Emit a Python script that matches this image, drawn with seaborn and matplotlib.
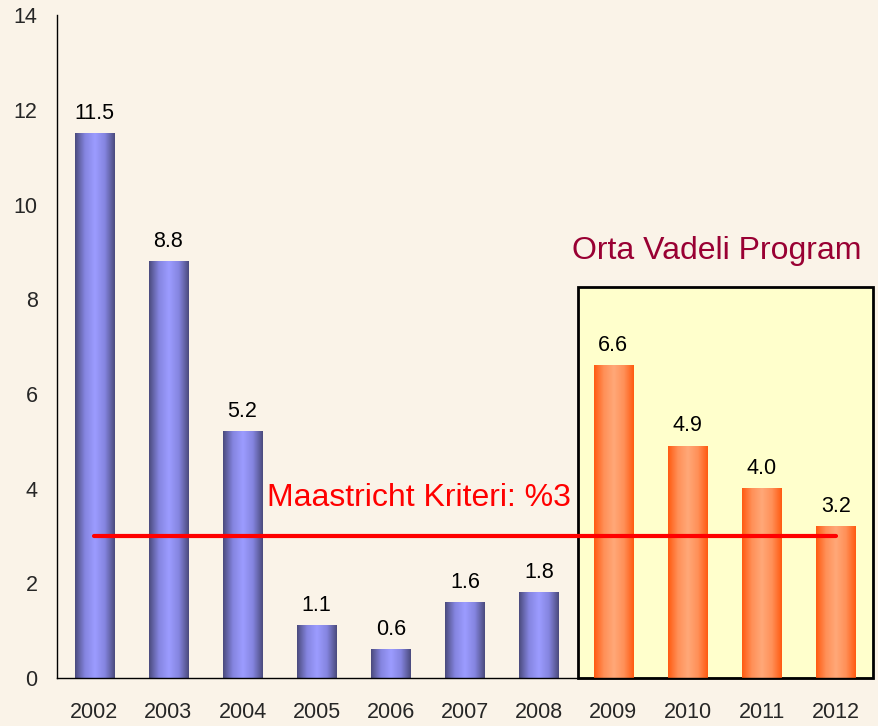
import numpy as np
import pandas as pd
import matplotlib
matplotlib.use("Agg")
import matplotlib.pyplot as plt
import seaborn as sns
from matplotlib.colors import LinearSegmentedColormap
from matplotlib.patches import Rectangle

years = ["2002", "2003", "2004", "2005", "2006", "2007", "2008",
         "2009", "2010", "2011", "2012"]
values = [11.5, 8.8, 5.2, 1.1, 0.6, 1.6, 1.8, 6.6, 4.9, 4.0, 3.2]
group = ["actual"] * 7 + ["program"] * 4
labels = ["11.5", "8.8", "5.2", "1.1", "0.6", "1.6", "1.8", "6.6", "4.9", "4.0", "3.2"]
criterion = 3.0
yticks = [0, 2, 4, 6, 8, 10, 12, 14]

df = pd.DataFrame({"year": years, "value": values, "group": group})

sns.set_theme(style="white")
plt.rcParams['font.family'] = ['Liberation Sans', 'DejaVu Sans']

bg = "#FAF3E8"
fig = plt.figure(figsize=(8.79, 7.26), dpi=100, facecolor=bg)
ax = fig.add_axes([0.065, 0.066, 0.928, 0.913])
ax.set_facecolor(bg)

sns.barplot(data=df, x="year", y="value", hue="group",
            palette={"actual": "#9999FF", "program": "#FF9966"},
            dodge=False, width=0.53, legend=False, ax=ax, zorder=3)

ax.set_xlim(-0.5, len(years) - 0.5)
ax.set_ylim(0, 14)

# yellow highlight box for the program years
box = Rectangle((6.52, 0), 3.98, 8.25, facecolor="#FFFFCC", edgecolor="black",
                linewidth=2, zorder=1, clip_on=False)
ax.add_patch(box)

blue_cmap = LinearSegmentedColormap.from_list("b", ["#4A4A7C", "#8585E0", "#9C9CFF", "#8585E0", "#4A4A7C"])
orange_cmap = LinearSegmentedColormap.from_list("o", ["#FF5A10", "#FF9058", "#FFA878", "#FF9058", "#FF5A10"])
grad = np.linspace(0, 1, 256).reshape(1, -1)

for p in ax.patches:
    if p is box:
        continue
    x0, w, h = p.get_x(), p.get_width(), p.get_height()
    if h <= 0 or w <= 0:
        continue
    fc = p.get_facecolor()
    cmap = orange_cmap if fc[1] < 0.8 and fc[0] > 0.9 else blue_cmap
    p.set_facecolor("none")
    p.set_edgecolor("none")
    ax.imshow(grad, cmap=cmap, extent=(x0, x0 + w, 0, h), aspect="auto",
              zorder=3, interpolation="bilinear")

ax.set_xlim(-0.5, len(years) - 0.5)
ax.set_ylim(0, 14)

for i, (v, t) in enumerate(zip(values, labels)):
    ax.annotate(t, (i, v), xytext=(0, 7), textcoords="offset points",
                ha="center", va="bottom", fontsize=15.5, color="black", zorder=5)

# Maastricht criterion line
ax.plot([0, len(years) - 1], [criterion, criterion], color="#FF0000", lw=3, zorder=4)
ax.text(4.38, 3.8, "Maastricht Kriteri: %3", color="#FF0000", fontsize=23,
        ha="center", va="center", zorder=5)
ax.text(8.4, 9.02, "Orta Vadeli Program", color="#990033", fontsize=23,
        ha="center", va="center", zorder=5)

# axes styling
for s in ["top", "right"]:
    ax.spines[s].set_visible(False)
ax.spines["left"].set_color("black")
ax.spines["bottom"].set_color("black")
ax.spines["left"].set_linewidth(1)
ax.spines["bottom"].set_linewidth(1)
ax.spines["left"].set_zorder(6)
ax.spines["bottom"].set_zorder(6)

ax.set_yticks(yticks)
ax.set_yticklabels([str(t) for t in yticks], fontsize=15.5)
ax.set_xticks(range(len(years)))
ax.set_xticklabels(years, fontsize=15.5)
ax.set_xticks(np.arange(-0.5, len(years), 1.0), minor=True)
ax.tick_params(axis="x", which="major", length=0, pad=17)
ax.tick_params(axis="x", which="minor", length=6, width=1, color="#555555", direction="out")
ax.tick_params(axis="y", which="major", length=5, width=1, color="#555555", direction="out", pad=9)
ax.set_xlabel("")
ax.set_ylabel("")
ax.grid(False)

fig.savefig("out.png", dpi=100, facecolor=bg)
